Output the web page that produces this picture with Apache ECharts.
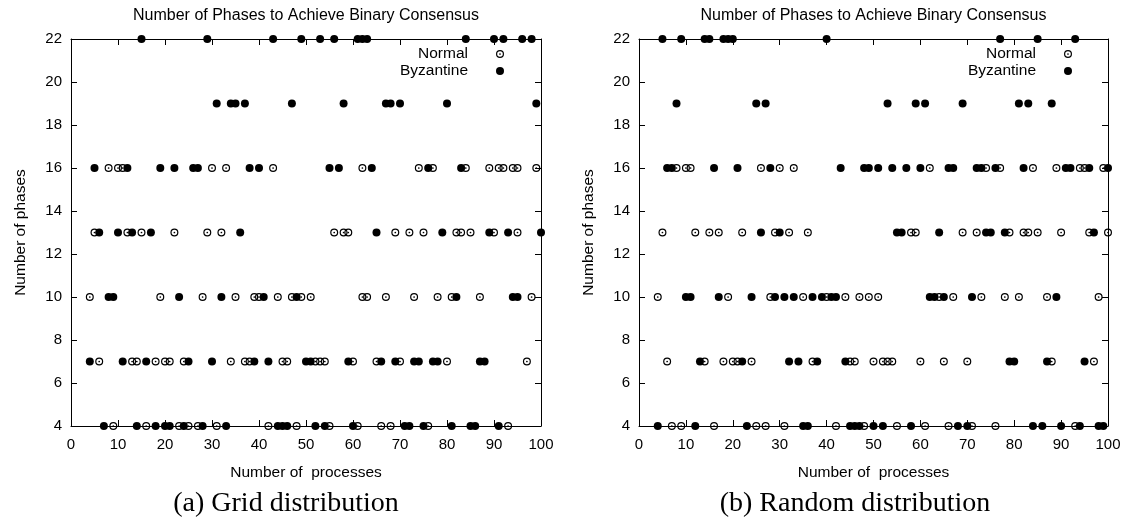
<!DOCTYPE html>
<html>
<head>
<meta charset="utf-8">
<script src="https://cdn.jsdelivr.net/npm/echarts@6/dist/echarts.min.js"></script>
<style>
html,body{margin:0;padding:0;background:#fff;}
#c{width:1132px;height:524px;}
</style>
</head>
<body>
<div id="c"></div>
<script>
// ---- data ----
const phases = [4, 7, 10, 13, 16, 19, 22];
const xTicks = [0, 10, 20, 30, 40, 50, 60, 70, 80, 90, 100];
const yTicks = [4, 6, 8, 10, 12, 14, 16, 18, 20, 22];
const titleText = 'Number of Phases to Achieve Binary Consensus';
const xName = 'Number of  processes';
const yName = 'Number of phases';
const captions = ['(a) Grid distribution', '(b) Random distribution'];
const seriesNames = ['Normal', 'Byzantine'];

// rows follow the order of `phases`: number of processes at which each run ended
const gridNormal = [
  [9, 16, 23, 25, 27, 31, 42, 48, 55, 61, 66, 68, 76, 93],
  [6, 13, 14, 18, 20, 21, 24, 34, 37, 38, 45, 46, 52, 53, 54, 60, 65, 70, 80, 97],
  [4, 19, 28, 35, 39, 40, 44, 47, 49, 51, 62, 63, 67, 73, 78, 81, 87, 98],
  [5, 12, 15, 22, 29, 32, 56, 58, 59, 69, 72, 75, 82, 83, 85, 90, 95],
  [8, 10, 11, 30, 33, 43, 62, 74, 77, 84, 89, 91, 92, 94, 95, 99],
  [],
  []
];
const gridByz = [
  [7, 14, 18, 20, 21, 24, 28, 33, 44, 45, 46, 52, 54, 60, 71, 72, 75, 81, 85, 86, 91],
  [4, 11, 16, 25, 30, 39, 42, 50, 51, 59, 66, 69, 73, 74, 77, 78, 87, 88],
  [8, 9, 23, 32, 41, 48, 82, 94, 95],
  [6, 10, 13, 17, 36, 65, 79, 89, 93, 100],
  [5, 12, 19, 22, 26, 27, 38, 40, 55, 57, 64, 76, 83],
  [31, 34, 35, 37, 47, 58, 67, 68, 70, 80, 99],
  [15, 29, 43, 49, 53, 56, 61, 62, 63, 84, 90, 92, 96, 98]
];
const randNormal = [
  [7, 9, 16, 25, 27, 31, 42, 48, 55, 61, 66, 71, 76, 93],
  [6, 14, 18, 20, 21, 24, 37, 45, 46, 50, 52, 53, 54, 60, 65, 70, 88, 97],
  [4, 19, 28, 35, 40, 44, 47, 49, 51, 64, 67, 73, 78, 81, 87, 98],
  [5, 12, 15, 17, 22, 29, 32, 36, 58, 59, 69, 72, 79, 82, 83, 85, 90, 96, 100],
  [8, 10, 11, 26, 30, 33, 62, 74, 77, 84, 89, 94, 95, 99],
  [],
  []
];
const randByz = [
  [4, 12, 23, 35, 36, 45, 46, 47, 50, 52, 58, 68, 70, 84, 86, 90, 94, 98, 99],
  [13, 22, 32, 34, 38, 44, 79, 80, 87, 95],
  [10, 11, 17, 24, 29, 31, 33, 37, 39, 41, 42, 62, 63, 65, 71, 89],
  [26, 30, 55, 56, 64, 74, 75, 78, 97],
  [6, 7, 16, 21, 28, 43, 48, 49, 51, 54, 57, 60, 66, 67, 72, 73, 76, 82, 91, 92, 96, 100],
  [8, 25, 27, 53, 59, 61, 69, 81, 83, 88],
  [5, 9, 14, 15, 18, 19, 20, 40, 77, 85, 93]
];

function toPoints(rows) {
  const out = [];
  rows.forEach((xs, i) => xs.forEach(x => out.push([x, phases[i]])));
  return out;
}

// ---- style ----
const FONT = 'Liberation Sans';
const openSym = 'path://M0,7A7,7,0,1,1,14,7A7,7,0,1,1,0,7ZM2.1,7A4.9,4.9,0,1,0,11.9,7A4.9,4.9,0,1,0,2.1,7ZM5.5,7A1.5,1.5,0,1,1,8.5,7A1.5,1.5,0,1,1,5.5,7Z';
const grids = [
  {left: 71, right: 591, top: 39, bottom: 98},
  {left: 639, right: 24, top: 39, bottom: 98}
];
const centers = [306, 873.5];
const capCenters = [286, 855];

function xAx(g, top) {
  return {
    type: 'value', gridIndex: g, position: top ? 'top' : 'bottom',
    min: xTicks[0], max: xTicks[xTicks.length - 1], interval: xTicks[1] - xTicks[0],
    name: top ? '' : xName, nameLocation: 'middle', nameGap: 39,
    nameTextStyle: {fontFamily: FONT, fontSize: 15.5, color: '#000'},
    axisLine: {show: true, onZero: false, lineStyle: {color: '#000', width: 1}},
    axisTick: {show: true, inside: true, length: 6, lineStyle: {color: '#000', width: 1}},
    axisLabel: {show: !top, color: '#000', fontFamily: FONT, fontSize: 15, margin: 11},
    splitLine: {show: false}
  };
}
function yAx(g, right) {
  return {
    type: 'value', gridIndex: g, position: right ? 'right' : 'left',
    min: yTicks[0], max: yTicks[yTicks.length - 1], interval: yTicks[1] - yTicks[0],
    name: right ? '' : yName, nameLocation: 'middle', nameGap: 42,
    nameTextStyle: {fontFamily: FONT, fontSize: 15.5, color: '#000'},
    axisLine: {show: true, onZero: false, lineStyle: {color: '#000', width: 1}},
    axisTick: {show: true, inside: true, length: 6, lineStyle: {color: '#000', width: 1}},
    axisLabel: {show: !right, color: '#000', fontFamily: FONT, fontSize: 15, margin: 9},
    splitLine: {show: false}
  };
}

const series = [];
[[gridNormal, gridByz], [randNormal, randByz]].forEach((pair, g) => {
  series.push({
    name: seriesNames[0], type: 'scatter', xAxisIndex: g * 2, yAxisIndex: g * 2,
    data: toPoints(pair[0]), symbol: openSym, symbolSize: 8, clip: false, z: 2,
    itemStyle: {color: '#000', opacity: 1}, emphasis: {disabled: true}
  });
  series.push({
    name: seriesNames[1], type: 'scatter', xAxisIndex: g * 2, yAxisIndex: g * 2,
    data: toPoints(pair[1]), symbol: 'circle', symbolSize: 8, clip: false, z: 3,
    itemStyle: {color: '#000', opacity: 1}, emphasis: {disabled: true}
  });
});

const legendRights = [628, 60];
const option = {
  animation: false,
  backgroundColor: '#fff',
  title: [0, 1].map(g => ({
    text: titleText, left: centers[g], top: 8, textAlign: 'center', padding: 0,
    textStyle: {fontFamily: FONT, fontSize: 16, fontWeight: 'normal', color: '#000'}
  })).concat([0, 1].map(g => ({
    text: captions[g], left: capCenters[g], top: 490, textAlign: 'center', padding: 0,
    textStyle: {fontFamily: 'Liberation Serif', fontSize: 28, fontWeight: 'normal', color: '#000'}
  }))),
  legend: [0, 1].map(g => ({
    data: seriesNames, orient: 'vertical', align: 'right',
    right: legendRights[g], top: 45.5, padding: 0, itemGap: 0,
    itemWidth: 8, itemHeight: 8, selectedMode: false,
    textStyle: {fontFamily: FONT, fontSize: 15.5, color: '#000', lineHeight: 17, padding: [0, 23, 0, 0]}
  })),
  grid: grids,
  xAxis: [xAx(0, false), xAx(0, true), xAx(1, false), xAx(1, true)],
  yAxis: [yAx(0, false), yAx(0, true), yAx(1, false), yAx(1, true)],
  series: series
};

const chart = echarts.init(document.getElementById('c'), null, {renderer: 'canvas'});
chart.setOption(option);
</script>
</body>
</html>
